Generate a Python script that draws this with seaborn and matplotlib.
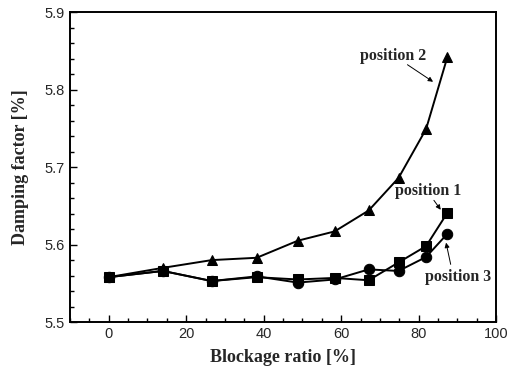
import matplotlib
matplotlib.use("Agg")
import matplotlib.pyplot as plt
import seaborn as sns
import pandas as pd
from matplotlib.ticker import MultipleLocator

blockage = [0, 14, 26.6, 38.2, 48.8, 58.3, 67.1, 74.8, 81.9, 87.4]
pos1 = [5.558, 5.566, 5.553, 5.558, 5.555, 5.557, 5.554, 5.577, 5.598, 5.641]
pos2 = [5.558, 5.570, 5.580, 5.583, 5.605, 5.617, 5.644, 5.686, 5.749, 5.842]
pos3 = [5.558, 5.566, 5.553, 5.559, 5.551, 5.555, 5.568, 5.566, 5.584, 5.614]

sns.set_style("ticks")
plt.rcParams['font.family'] = ['Liberation Sans', 'DejaVu Sans']

fig = plt.figure(figsize=(5.1, 3.75), dpi=100)
ax = fig.add_axes([0.137, 0.141, 0.836, 0.827])

series = [("position 1", pos1, "s"), ("position 2", pos2, "^"), ("position 3", pos3, "o")]
for name, vals, mk in series:
    df = pd.DataFrame({"x": blockage, "y": vals})
    sns.lineplot(data=df, x="x", y="y", ax=ax, color="black", lw=1.4,
                 marker=mk, markersize=7.5, markeredgecolor="black",
                 markerfacecolor="black", sort=False)

ax.set_xlim(-10, 100)
ax.set_ylim(5.5, 5.9)
ax.xaxis.set_major_locator(MultipleLocator(20))
ax.xaxis.set_minor_locator(MultipleLocator(5))
ax.yaxis.set_major_locator(MultipleLocator(0.1))
ax.yaxis.set_minor_locator(MultipleLocator(0.02))
ax.yaxis.set_major_formatter(matplotlib.ticker.FormatStrFormatter('%.1f'))
ax.tick_params(which="both", direction="in", top=False, right=False, labelsize=10.5, color="black")
ax.tick_params(which="major", length=5, width=1)
ax.tick_params(which="minor", length=3, width=1)
for s in ax.spines.values():
    s.set_linewidth(1.4)
    s.set_color("black")

serif = ['Liberation Serif', 'DejaVu Serif']
ax.set_xlabel("Blockage ratio [%]", family=serif, fontweight="bold", fontsize=13, labelpad=6)
ax.set_ylabel("Damping factor [%]", family=serif, fontweight="bold", fontsize=13, labelpad=11)

ann = dict(family=serif, fontweight="bold", fontsize=11.5, ha="center", va="center")
ap = dict(arrowstyle="-|>", color="black", lw=0.7, mutation_scale=7)
ax.text(73.5, 5.843, "position 2", **ann)
ax.annotate("", xy=(84.3, 5.808), xytext=(76.5, 5.834), arrowprops=ap)
ax.text(82.5, 5.669, "position 1", **ann)
ax.annotate("", xy=(86.1, 5.642), xytext=(83.5, 5.660), arrowprops=ap)
ax.text(90.2, 5.558, "position 3", **ann)
ax.annotate("", xy=(86.9, 5.606), xytext=(88.4, 5.571), arrowprops=ap)

fig.savefig("out.png", dpi=100)
